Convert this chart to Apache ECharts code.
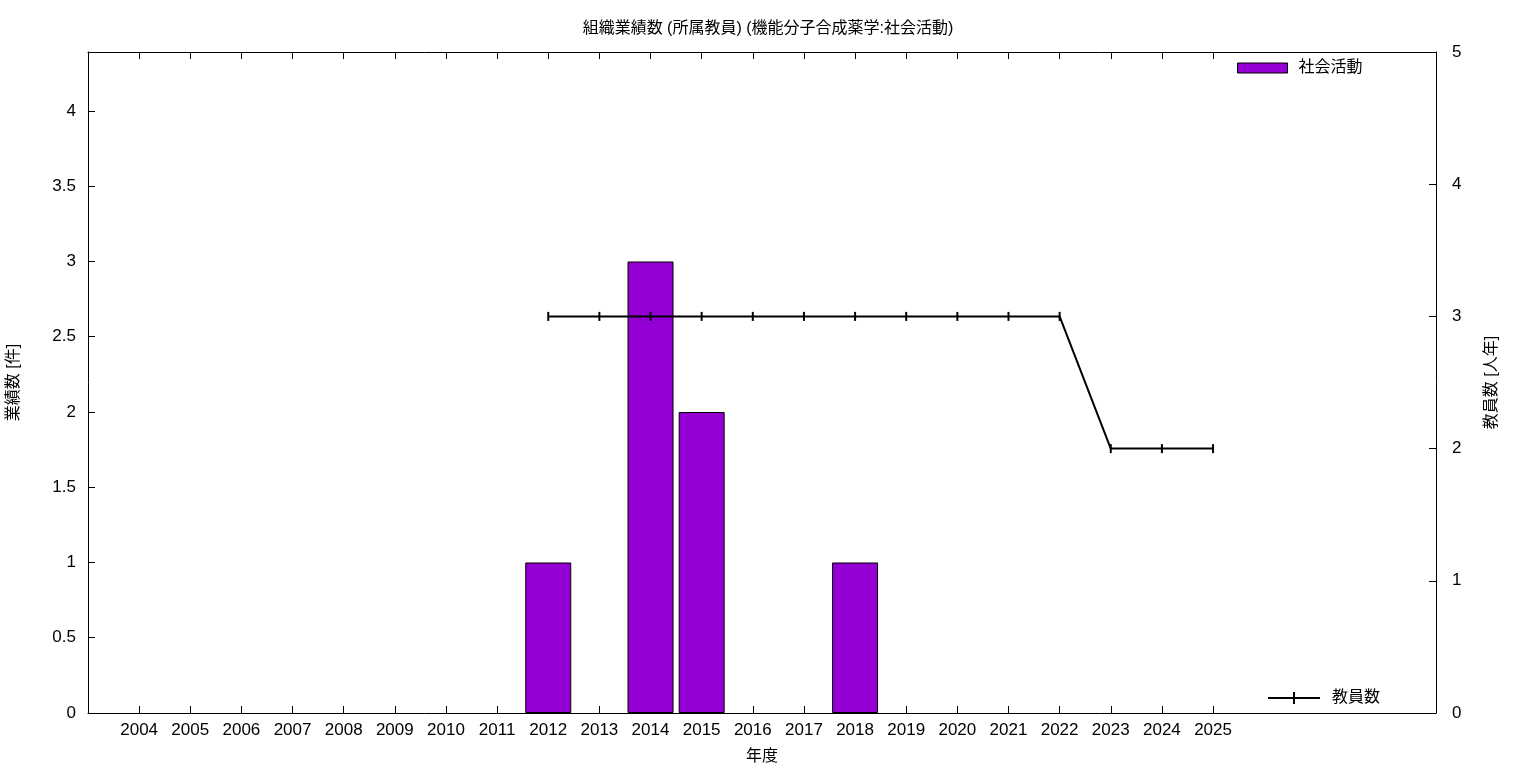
<!DOCTYPE html>
<html><head><meta charset="utf-8">
<script src="https://cdn.jsdelivr.net/npm/echarts@6/dist/echarts.min.js"></script>
<style>html,body{margin:0;padding:0;background:#fff}#c{width:1536px;height:768px}</style>
</head><body><div id="c"></div>
<script>
const years = [2004,2005,2006,2007,2008,2009,2010,2011,2012,2013,2014,2015,2016,2017,2018,2019,2020,2021,2022,2023,2024,2025];
const activity = [0,0,0,0,0,0,0,0,1,0,3,2,0,0,1,0,0,0,0,0,0,0];
const staffYears = [2012,2013,2014,2015,2016,2017,2018,2019,2020,2021,2022,2023,2024,2025];
const staff = [3,3,3,3,3,3,3,3,3,3,3,2,2,2];
const leftTicks = [0,0.5,1,1.5,2,2.5,3,3.5,4];
const rightTicks = [0,1,2,3,4,5];

const FONT = '"Liberation Sans","Noto Sans CJK JP",sans-serif';
const chart = echarts.init(document.getElementById('c'));
const barData = years.map((y,i)=>[y,activity[i]]).filter(d=>d[1]!==0);
const lineData = staffYears.map((y,i)=>[y,staff[i]]);
const axisLine = {show:true,onZero:false,lineStyle:{color:'#000',width:1}};
const lineLegendIcon = 'path://M0,5h25v-5h2v5h25v2h-25v5h-2v-5h-25z';
chart.setOption({
  animation:false,
  textStyle:{fontFamily:FONT,color:'#000'},
  title:{text:'組織業績数 (所属教員) (機能分子合成薬学:社会活動)',left:'center',top:16,
    textStyle:{fontFamily:FONT,fontSize:16,fontWeight:'normal',color:'#000'}},
  grid:{left:88,right:100,top:52,bottom:55,outerBoundsMode:'none',containLabel:false},
  legend:[
    {data:[{name:'社会活動',icon:'rect',itemStyle:{borderWidth:1}}],left:1237,top:60,padding:0,itemWidth:50,itemHeight:10,itemGap:10,
     textStyle:{fontFamily:FONT,fontSize:16,color:'#000',padding:[0,0,0,6]}},
    {data:[{name:'教員数',icon:lineLegendIcon}],left:1268,top:690,padding:0,itemWidth:52,itemHeight:12,itemGap:10,
     textStyle:{fontFamily:FONT,fontSize:16,color:'#000',padding:[0,0,0,7]}}
  ],
  xAxis:[
    {type:'value',min:2003,max:2029.36,position:'bottom',
     name:'年度',nameLocation:'middle',nameGap:36,nameTextStyle:{fontSize:16,color:'#000'},
     axisLine:axisLine,splitLine:{show:false},
     axisTick:{show:true,inside:true,length:7,customValues:years,lineStyle:{color:'#000'}},
     axisLabel:{customValues:years,fontSize:17,color:'#000',margin:9,formatter:v=>String(v)}},
    {type:'value',min:2003,max:2029.36,position:'top',
     axisLine:axisLine,splitLine:{show:false},
     axisTick:{show:true,inside:true,length:7,customValues:years,lineStyle:{color:'#000'}},
     axisLabel:{show:false}}
  ],
  yAxis:[
    {type:'value',min:0,max:4.392,position:'left',
     name:'業績数 [件]',nameLocation:'middle',nameGap:66,nameRotate:90,nameTextStyle:{fontSize:16,color:'#000'},
     axisLine:axisLine,splitLine:{show:false},
     axisTick:{show:true,inside:true,length:7,customValues:leftTicks,lineStyle:{color:'#000'}},
     axisLabel:{customValues:leftTicks,fontSize:17,color:'#000',margin:12}},
    {type:'value',min:0,max:5,position:'right',
     name:'教員数 [人年]',nameLocation:'middle',nameGap:48,nameRotate:90,nameTextStyle:{fontSize:16,color:'#000'},
     axisLine:axisLine,splitLine:{show:false},
     axisTick:{show:true,inside:true,length:7,customValues:rightTicks,lineStyle:{color:'#000'}},
     axisLabel:{customValues:rightTicks,fontSize:17,color:'#000',margin:16}}
  ],
  series:[
    {name:'社会活動',type:'bar',xAxisIndex:0,yAxisIndex:0,data:barData,barWidth:46,
     itemStyle:{color:'#9400d3',borderColor:'#000',borderWidth:1},z:2},
    {name:'教員数',type:'line',xAxisIndex:0,yAxisIndex:1,data:lineData,
     symbol:'rect',symbolSize:[2,9],showSymbol:true,
     lineStyle:{color:'#000',width:2},itemStyle:{color:'#000'},z:3}
  ]
});
</script></body></html>
